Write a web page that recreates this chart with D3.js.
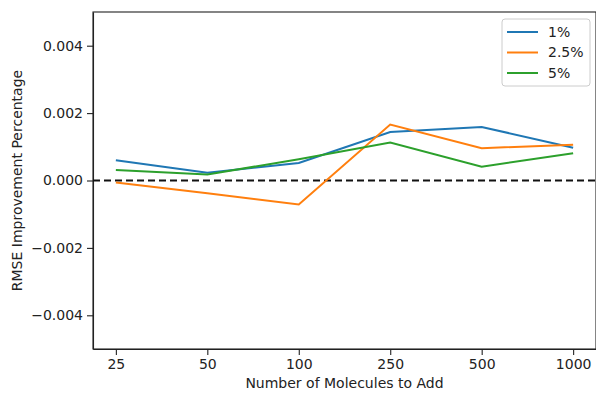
<!DOCTYPE html>
<html>
<head>
<meta charset="utf-8">
<script src="https://cdn.jsdelivr.net/npm/d3@7"></script>
<style>
    body { margin: 0; background: #fff; }
    svg { display: block; font-family: "DejaVu Sans", sans-serif; }
    .axis text { font-family: "DejaVu Sans", sans-serif; font-size: 14px; fill: #222; }
    .axis path, .axis line { stroke: #222; stroke-width: 1.1; }
</style>
</head>
<body>
<svg id="chart" width="596" height="393"></svg>
<script>
// categories on x axis
var categories = ["25", "50", "100", "250", "500", "1000"];
// series
var seriesNames = ["1%", "2.5%", "5%"];
var seriesColors = ["#1f77b4", "#ff7f0e", "#2ca02c"];
var values1 = [0.00060, 0.00023, 0.00052, 0.00144, 0.00159, 0.00097];
var values25 = [-0.00006, -0.00038, -0.00071, 0.00166, 0.00096, 0.00106];
var values5 = [0.00031, 0.00018, 0.00063, 0.00113, 0.00041, 0.00081];
var yTicks = [-0.004, -0.002, 0, 0.002, 0.004];

var margin = {top: 12, right: 0, bottom: 44, left: 93};
var svg = d3.select("#chart");
var width = +svg.attr("width") - margin.left - margin.right;
var height = +svg.attr("height") - margin.top - margin.bottom;

// categorical x as index positions, matplotlib style margins
var xScale = d3.scaleLinear()
    .domain([-0.25, categories.length - 1 + 0.25])
    .range([0, width]);
var yScale = d3.scaleLinear()
    .domain([-0.005, 0.005])
    .range([height, 0]);

var g = svg.append("g")
    .attr("transform", "translate(" + margin.left + "," + margin.top + ")");

// x axis
g.append("g")
    .attr("class", "axis axis--x")
    .attr("transform", "translate(0," + height + ")")
    .call(d3.axisBottom(xScale)
        .tickValues(d3.range(categories.length))
        .tickFormat(i => categories[i])
        .tickSize(6).tickPadding(4).tickSizeOuter(0));

// y axis
g.append("g")
    .attr("class", "axis axis--y")
    .call(d3.axisLeft(yScale)
        .tickValues(yTicks)
        .tickFormat(d => (d < 0 ? "\u2212" : "") + Math.abs(d).toFixed(3))
        .tickSize(6).tickPadding(4).tickSizeOuter(0));

// frame
g.append("rect")
    .attr("width", width)
    .attr("height", height)
    .attr("fill", "none")
    .attr("stroke", "#222")
    .attr("stroke-width", 1.1);

// zero line
g.append("line")
    .attr("x1", 0).attr("x2", width)
    .attr("y1", yScale(0)).attr("y2", yScale(0))
    .attr("stroke", "#111")
    .attr("stroke-width", 2)
    .attr("stroke-dasharray", "7,4");

// lines
var allSeries = [values1, values25, values5];
var line = d3.line()
    .x((d, i) => xScale(i))
    .y(d => yScale(d));

g.selectAll(".series")
    .data(allSeries)
    .enter().append("path")
    .attr("class", "series")
    .attr("fill", "none")
    .attr("stroke", (d, i) => seriesColors[i])
    .attr("stroke-width", 2)
    .attr("d", line);

// axis labels
svg.append("text")
    .attr("x", margin.left + xScale(2.5))
    .attr("y", 388)
    .attr("text-anchor", "middle")
    .style("font-size", "14px")
    .style("fill", "#222")
    .text("Number of Molecules to Add");

svg.append("text")
    .attr("transform", "translate(22," + (margin.top + height / 2) + ") rotate(-90)")
    .attr("text-anchor", "middle")
    .style("font-size", "14px")
    .style("fill", "#222")
    .text("RMSE Improvement Percentage");

// legend
var legend = svg.append("g")
    .attr("transform", "translate(502,19)");
legend.append("rect")
    .attr("width", 88)
    .attr("height", 67)
    .attr("rx", 3)
    .attr("fill", "#fff")
    .attr("fill-opacity", 0.8)
    .attr("stroke", "#ccc");

var items = legend.selectAll(".legend")
    .data(seriesNames)
    .enter().append("g")
    .attr("class", "legend")
    .attr("transform", (d, i) => "translate(0," + (13 + i * 20.5) + ")");

items.append("line")
    .attr("x1", 5).attr("x2", 36)
    .attr("stroke", (d, i) => seriesColors[i])
    .attr("stroke-width", 2);

items.append("text")
    .attr("x", 46)
    .attr("dy", "0.35em")
    .style("font-size", "14px")
    .style("fill", "#222")
    .text(d => d);
</script>
</body>
</html>
